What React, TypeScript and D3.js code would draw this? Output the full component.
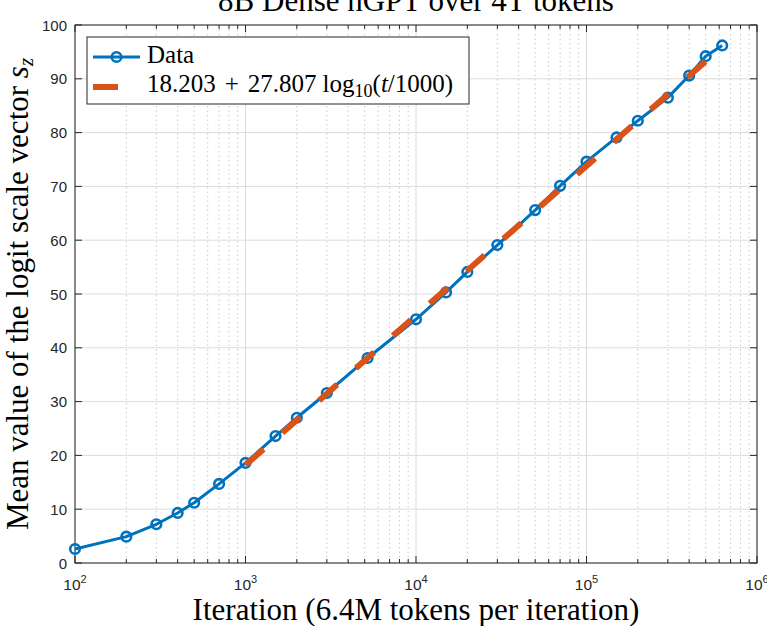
import * as d3 from "d3";

// ── Data ──────────────────────────────────────────────────────
const ITERS = [100, 200, 300, 400, 500, 700, 1000, 1500, 2000, 3000, 5200, 10000, 15000, 20000, 30000, 50000, 70000, 100000, 150000, 200000, 300000, 400000, 500000, 625000];
const VALUES = [2.6, 4.9, 7.2, 9.3, 11.2, 14.7, 18.6, 23.6, 27.0, 31.6, 38.1, 45.3, 50.3, 54.1, 59.1, 65.6, 70.1, 74.6, 79.1, 82.2, 86.5, 90.6, 94.2, 96.2];

// fit line endpoints
const FIT_T = [1000, 625000];
const FIT_V = [18.2, 95.95];

const Y_TICKS = [0, 10, 20, 30, 40, 50, 60, 70, 80, 90, 100];
const X_EXPONENTS = [2, 3, 4, 5, 6];

// ── Layout ────────────────────────────────────────────────────
const W = 767;
const H = 626;
const L = 75;
const R = 757;
const T = 25;
const B = 563;

const BLUE = "#0072BD";
const ORANGE = "#D95319";
const AXIS = "#262626";
const GRID = "#dcdcdc";
const SERIF = "'Liberation Serif', 'Times New Roman', serif";
const SANS = "'Liberation Sans', Arial, Helvetica, sans-serif";

export default function App() {
  const x = d3.scaleLog().domain([100, 1e6]).range([L, R]);
  const y = d3.scaleLinear().domain([0, 100]).range([B, T]);

  const majorX = X_EXPONENTS.map((e) => Math.pow(10, e));
  // 2..9 multiples in every decade
  const minorX = x.ticks().filter((t) => {
    const m = Math.round(t / Math.pow(10, Math.floor(Math.log10(t) + 1e-9)));
    return m !== 1;
  });

  const dataLine = d3
    .line<number>()
    .x((_d, i) => x(ITERS[i]))
    .y((d) => y(d));

  const fitLine = d3
    .line<number>()
    .x((_d, i) => x(FIT_T[i]))
    .y((d) => y(d));

  return (
    <svg
      width={W}
      height={H}
      style={{ position: "absolute", left: 0, top: 0, background: "#fff" }}
    >
      {/* grid */}
      {minorX.map((t) => (
        <line key={"mg" + t} x1={x(t)} x2={x(t)} y1={T} y2={B} stroke="#c4c4c4" strokeWidth={0.9} strokeDasharray="1.5 3" />
      ))}
      {majorX.map((t) => (
        <line key={"xg" + t} x1={x(t)} x2={x(t)} y1={T} y2={B} stroke={GRID} strokeWidth={1} />
      ))}
      {Y_TICKS.map((v) => (
        <line key={"yg" + v} x1={L} x2={R} y1={y(v)} y2={y(v)} stroke={GRID} strokeWidth={1} />
      ))}

      {/* box + ticks */}
      <rect x={L} y={T} width={R - L} height={B - T} fill="none" stroke={AXIS} strokeWidth={1} />
      {majorX.map((t) => (
        <g key={"xt" + t}>
          <line x1={x(t)} x2={x(t)} y1={B} y2={B - 7} stroke={AXIS} />
          <line x1={x(t)} x2={x(t)} y1={T} y2={T + 7} stroke={AXIS} />
        </g>
      ))}
      {minorX.map((t) => (
        <g key={"xm" + t}>
          <line x1={x(t)} x2={x(t)} y1={B} y2={B - 4} stroke={AXIS} />
          <line x1={x(t)} x2={x(t)} y1={T} y2={T + 4} stroke={AXIS} />
        </g>
      ))}
      {Y_TICKS.map((v) => (
        <g key={"yt" + v}>
          <line x1={L} x2={L + 7} y1={y(v)} y2={y(v)} stroke={AXIS} />
          <line x1={R} x2={R - 7} y1={y(v)} y2={y(v)} stroke={AXIS} />
        </g>
      ))}

      {/* tick labels */}
      {Y_TICKS.map((v) => (
        <text key={"yl" + v} x={L - 8} y={y(v) + 5.5} textAnchor="end" fontFamily={SANS} fontSize={15} fill={AXIS}>
          {v}
        </text>
      ))}
      {X_EXPONENTS.map((e) => (
        <text key={"xl" + e} x={x(Math.pow(10, e))} y={590} textAnchor="middle" fontFamily={SANS} fontSize={15.5} fill={AXIS}>
          10
          <tspan dy={-7.5} fontSize={11}>{e}</tspan>
        </text>
      ))}

      {/* data */}
      <path d={dataLine(VALUES) ?? ""} fill="none" stroke={BLUE} strokeWidth={3} strokeLinejoin="round" />
      {VALUES.map((v, i) => (
        <circle key={"pt" + i} cx={x(ITERS[i])} cy={y(v)} r={4.8} fill="none" stroke={BLUE} strokeWidth={2.6} />
      ))}
      <path d={fitLine(FIT_V) ?? ""} fill="none" stroke={ORANGE} strokeWidth={6} strokeDasharray="24 25" />

      {/* legend */}
      <rect x={87} y={37} width={382} height={67} fill="#fff" stroke={AXIS} strokeWidth={1} />
      <line x1={93} x2={140} y1={57} y2={57} stroke={BLUE} strokeWidth={3} />
      <circle cx={116.5} cy={57} r={4.8} fill="none" stroke={BLUE} strokeWidth={2.6} />
      <text x={147} y={63} fontFamily={SERIF} fontSize={25} fill="#000">Data</text>
      <line x1={93} x2={118} y1={87} y2={87} stroke={ORANGE} strokeWidth={6} />
      <text x={147} y={92} fontFamily={SERIF} fontSize={25} fill="#000">
        18.203
        <tspan dx={9}>+</tspan>
        <tspan dx={9}>27.807</tspan>
        <tspan dx={6}>log</tspan>
        <tspan dy={5} fontSize={18}>10</tspan>
        <tspan dy={-5}>(</tspan>
        <tspan fontStyle="italic">t</tspan>
        <tspan>/1000)</tspan>
      </text>

      {/* title and labels */}
      <text x={(L + R) / 2} y={11} textAnchor="middle" fontFamily={SERIF} fontSize={31} fill="#000">
        8B Dense nGPT over 4T tokens
      </text>
      <text x={(L + R) / 2} y={620} textAnchor="middle" fontFamily={SERIF} fontSize={31} fill="#000">
        Iteration (6.4M tokens per iteration)
      </text>
      <text
        transform={`translate(28, ${(T + B) / 2}) rotate(-90)`}
        textAnchor="middle"
        fontFamily={SERIF}
        fontSize={31}
        fill="#000"
      >
        Mean value of the logit scale vector <tspan fontStyle="italic">s</tspan>
        <tspan fontStyle="italic" dy={5} fontSize={21}>z</tspan>
      </text>
    </svg>
  );
}
